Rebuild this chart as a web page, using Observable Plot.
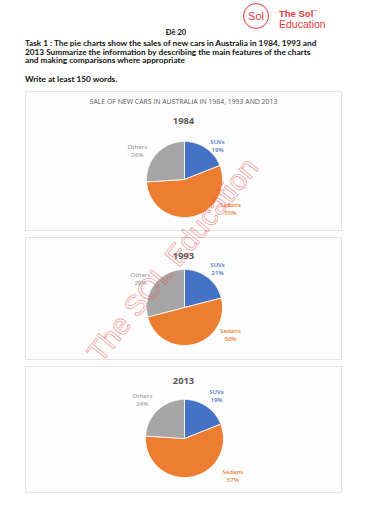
<!DOCTYPE html>
<html><head><meta charset="utf-8">
<script src="https://cdn.jsdelivr.net/npm/d3@7"></script>
<script src="https://cdn.jsdelivr.net/npm/@observablehq/plot@0.6"></script>
<style>
body{margin:0;width:368px;height:512px;background:#fff;position:relative;overflow:hidden;font-family:Lato,"Open Sans",sans-serif;}
.abs{position:absolute;white-space:nowrap;}
.panel{position:absolute;left:25px;width:315px;border:1px solid #e4e4e4;background:#fdfdfd;}
.panel svg{position:absolute;left:0;top:0;}
.year{position:absolute;width:100%;text-align:center;font-family:"Open Sans",sans-serif;font-weight:bold;font-size:9.3px;color:#595959;}
.task{left:25px;font-weight:bold;font-size:8.25px;color:#111;line-height:8.7px;}
</style></head><body>
<div class="abs" style="left:0;width:352px;top:28px;text-align:center;font-weight:bold;font-size:7.5px;color:#111;">Đề 20</div>
<div class="abs" style="left:243px;top:3px;width:24px;height:24px;border:1.6px solid #e33b3b;border-radius:50%;color:#e33b3b;font-family:'Liberation Sans',sans-serif;font-size:11px;line-height:24px;text-align:center;">Sol</div>
<div class="abs" style="left:279px;top:8px;color:#e33b3b;font-family:'Liberation Sans',sans-serif;font-weight:bold;font-size:9.5px;">The Sol<sup style="font-size:4px;">™</sup></div>
<div class="abs" style="left:279px;top:18px;color:#e33b3b;font-family:'Liberation Sans',sans-serif;font-size:10.5px;">Education</div>
<div class="abs task" style="top:39px;">Task 1 : The pie charts show the sales of new cars in Australia in 1984, 1993 and<br>2013 Summarize the information by describing the main features of the charts<br>and making comparisons where appropriate</div>
<div class="abs task" style="top:75px;">Write at least 150 words.</div>

<div class="panel" id="p0" style="top:91px;height:138px;">
  <div class="abs" style="left:0;width:100%;top:5px;text-align:center;font-family:'Open Sans',sans-serif;font-size:6.9px;color:#595959;">SALE OF NEW CARS IN AUSTRALIA IN 1984, 1993 AND 2013</div>
  <div class="year" style="top:22px;">1984</div>
</div>
<div class="panel" id="p1" style="top:237px;height:121px;">
  <div class="year" style="top:11px;">1993</div>
</div>
<div class="panel" id="p2" style="top:366px;height:125px;">
  <div class="year" style="top:7px;">2013</div>
</div>

<div class="abs" style="left:173px;top:260px;transform:translate(-50%,-50%) rotate(-51deg);font-family:'Liberation Sans',sans-serif;font-size:29px;color:rgba(255,255,255,0);-webkit-text-stroke:0.8px rgba(232,80,80,0.55);">The SOL Education</div>

<script>
const categories = ["SUVs", "Sedans", "Others"];
const years = ["1984", "1993", "2013"];
const values1984 = [19, 55, 26];
const values1993 = [21, 50, 29];
const values2013 = [19, 57, 24];
const sliceColors = ["#4472C4", "#ED7D31", "#A5A5A5"];

const seriesByYear = [values1984, values1993, values2013];

// layout (pixels relative to each panel, label offsets in pie-radius units)
const layout = [
  {h: 138, cx: 158, cy: 87, r: 38, lab: [[0.87, 0.89], [1.21, -0.76], [-1.24, 0.76]]},
  {h: 121, cx: 158, cy: 69, r: 38, lab: [[0.87, 1.03], [1.21, -0.71], [-1.16, 0.76]]},
  {h: 125, cx: 158, cy: 71, r: 39, lab: [[0.82, 1.10], [1.24, -0.95], [-1.08, 1.00]]}
];

function sliceRows(values) {
  const total = d3.sum(values);
  let acc = 0;
  const rows = [];
  values.forEach((v, i) => {
    const cat = categories[i];
    const a0 = acc / total * 2 * Math.PI;
    const a1 = (acc + v) / total * 2 * Math.PI;
    acc += v;
    const n = Math.max(2, Math.ceil((a1 - a0) / (Math.PI / 120)));
    rows.push({cat, x: 0, y: 0});
    for (let k = 0; k <= n; k++) {
      const a = a0 + (a1 - a0) * k / n;
      rows.push({cat, x: Math.sin(a), y: Math.cos(a)});
    }
    rows.push({cat, x: 0, y: 0});
  });
  return rows;
}

seriesByYear.forEach((values, p) => {
  const L = layout[p];
  const labels = values.map((v, i) => ({
    cat: categories[i],
    text: `${categories[i]}\n${v}%`,
    x: L.lab[i][0],
    y: L.lab[i][1]
  }));
  const chart = Plot.plot({
    width: 315,
    height: L.h,
    margin: 0,
    style: {background: "transparent", overflow: "visible"},
    x: {domain: [-1, 1], range: [L.cx - L.r, L.cx + L.r], axis: null},
    y: {domain: [-1, 1], range: [L.cy + L.r, L.cy - L.r], axis: null},
    color: {domain: categories, range: sliceColors},
    marks: [
      Plot.line(sliceRows(values), {x: "x", y: "y", z: "cat", fill: "cat", stroke: "white", strokeWidth: 0.8, curve: "linear"}),
      Plot.text(labels, {x: "x", y: "y", text: "text", fill: "cat", fontSize: 6, fontWeight: 600, fontFamily: "Open Sans", lineHeight: 1.3})
    ]
  });
  document.getElementById("p" + p).appendChild(chart);
});
</script>
</body></html>
